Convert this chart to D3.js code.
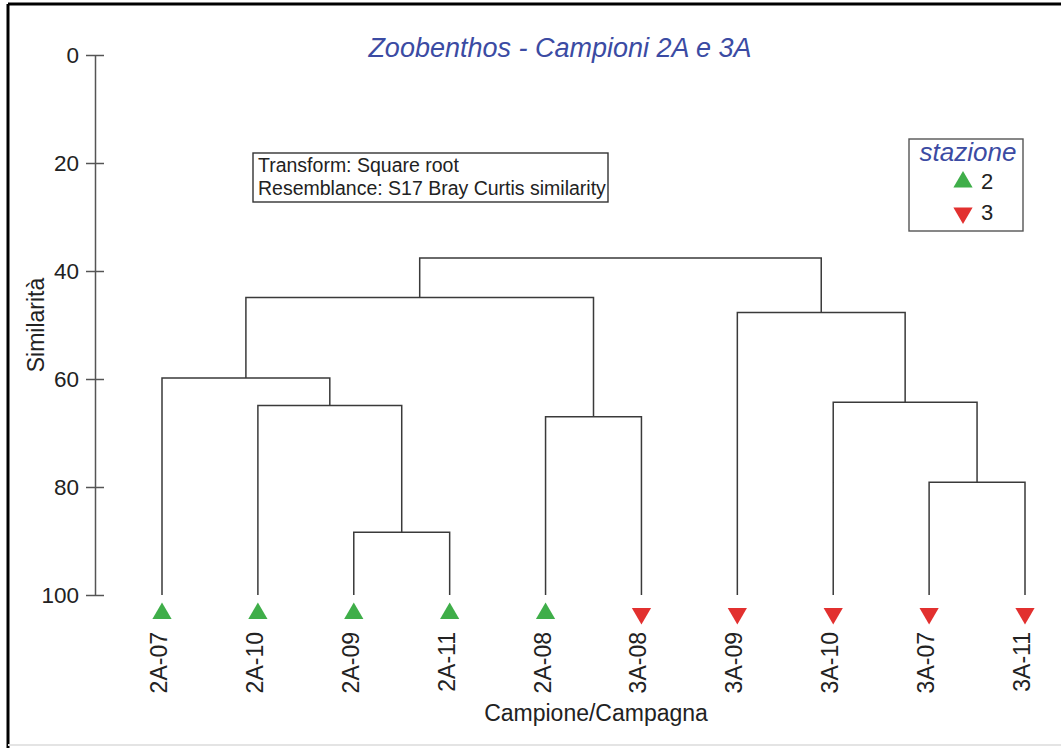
<!DOCTYPE html>
<html>
<head>
<meta charset="utf-8">
<script src="https://cdn.jsdelivr.net/npm/d3@7"></script>
<style>
  body { margin: 0; background: #fff; }
  svg { display: block; font-family: "Liberation Sans", Arial, Helvetica, sans-serif; }
</style>
</head>
<body>
<div id="chart"></div>
<script>
// leaves (left to right) and their station
const leaves = ["2A-07", "2A-10", "2A-09", "2A-11", "2A-08", "3A-08", "3A-09", "3A-10", "3A-07", "3A-11"];
const stations = [2, 2, 2, 2, 2, 3, 3, 3, 3, 3];

// merges: node ids 0-9 are leaves, merge i creates node 10+i
const mergeLeft  = [2, 1, 0, 4, 12, 8, 7, 6, 14];
const mergeRight = [3, 10, 11, 5, 13, 9, 15, 16, 17];
const mergeSim   = [88.4, 64.9, 59.8, 67.0, 44.9, 79.1, 64.3, 47.7, 37.6];

const yTicks = [0, 20, 40, 60, 80, 100];
const legendStations = [2, 3];

const W = 1061, H = 748;
const svg = d3.select("#chart").append("svg")
    .attr("width", W)
    .attr("height", H);

// frame
svg.append("line").attr("x1", 8).attr("x2", W).attr("y1", 4).attr("y2", 4)
  .attr("stroke", "#000").attr("stroke-width", 3);
svg.append("line").attr("x1", 8).attr("x2", 8).attr("y1", 4).attr("y2", H)
  .attr("stroke", "#000").attr("stroke-width", 3);
svg.append("line").attr("x1", 8).attr("x2", W).attr("y1", 745).attr("y2", 745)
  .attr("stroke", "#e4e4e4").attr("stroke-width", 2);

const x = d3.scalePoint().domain(leaves).range([162, 1025]);
const y = d3.scaleLinear().domain([0, 100]).range([55, 595]);

const color = d3.scaleOrdinal().domain([2, 3]).range(["#3fae49", "#e2302f"]);

// Y axis
const yAxis = svg.append("g")
  .attr("transform", "translate(95,0)")
  .call(d3.axisLeft(y).tickValues(yTicks).tickSize(9).tickSizeOuter(0).tickPadding(7));
yAxis.select(".domain").attr("stroke", "#555").attr("stroke-width", 1.5);
yAxis.selectAll(".tick line").attr("x1", -9).attr("x2", 9).attr("stroke", "#555").attr("stroke-width", 1.5);
yAxis.selectAll(".tick text")
  .attr("font-family", null)
  .attr("font-size", null)
  .style("font-size", "22.5px")
  .attr("fill", "#222");
yAxis.attr("font-size", null).attr("font-family", null);

svg.append("text")
  .attr("transform", "translate(44,325) rotate(-90)")
  .attr("text-anchor", "middle")
  .style("font-size", "23px")
  .attr("fill", "#222")
  .text("Similarità");

// node positions
const nodeX = leaves.map(d => x(d));
const nodeSim = leaves.map(() => 100);
mergeSim.forEach((s, i) => {
  nodeX.push((nodeX[mergeLeft[i]] + nodeX[mergeRight[i]]) / 2);
  nodeSim.push(s);
});

// dendrogram links
const links = svg.append("g")
  .attr("fill", "none")
  .attr("stroke", "#3a3a3a")
  .attr("stroke-width", 1.5);

mergeSim.forEach((s, i) => {
  const a = mergeLeft[i], b = mergeRight[i];
  links.append("path")
    .attr("d", `M${nodeX[a]},${y(nodeSim[a])}V${y(s)}H${nodeX[b]}V${y(nodeSim[b])}`);
});

// leaf symbols
const tri = d3.symbol(d3.symbolTriangle).size(160);
svg.append("g").selectAll("path")
  .data(leaves)
  .join("path")
    .attr("d", tri)
    .attr("fill", (d, i) => color(stations[i]))
    .attr("transform", (d, i) => `translate(${x(d)},${y(100) + 18.5}) rotate(${stations[i] === 2 ? 0 : 180})`);

// leaf labels
svg.append("g").selectAll("text")
  .data(leaves)
  .join("text")
    .attr("transform", d => `translate(${x(d) + 5},632) rotate(-90)`)
    .attr("text-anchor", "end")
    .style("font-size", "23px")
    .attr("fill", "#222")
    .text(d => d);

svg.append("text")
  .attr("x", 596).attr("y", 721)
  .attr("text-anchor", "middle")
  .style("font-size", "23px")
  .attr("fill", "#222")
  .text("Campione/Campagna");

// title
svg.append("text")
  .attr("x", 560).attr("y", 57)
  .attr("text-anchor", "middle")
  .style("font-size", "27px")
  .style("font-style", "italic")
  .attr("fill", "#3b4ba3")
  .text("Zoobenthos - Campioni 2A e 3A");

// info box
svg.append("rect")
  .attr("x", 253).attr("y", 153).attr("width", 355).attr("height", 49)
  .attr("fill", "#fff").attr("stroke", "#333").attr("stroke-width", 1.4);
svg.append("text").attr("x", 258).attr("y", 172)
  .style("font-size", "19.5px").attr("fill", "#222")
  .text("Transform: Square root");
svg.append("text").attr("x", 258).attr("y", 195)
  .style("font-size", "19.5px").attr("fill", "#222")
  .text("Resemblance: S17 Bray Curtis similarity");

// legend
const lg = svg.append("g");
lg.append("rect")
  .attr("x", 909).attr("y", 139).attr("width", 114).attr("height", 92)
  .attr("fill", "#fff").attr("stroke", "#555").attr("stroke-width", 1.4);
lg.append("text")
  .attr("x", 968).attr("y", 161)
  .attr("text-anchor", "middle")
  .style("font-size", "26px")
  .style("font-style", "italic")
  .attr("fill", "#3b4ba3")
  .text("stazione");
const legY = d3.scalePoint().domain(legendStations).range([182, 213]);
lg.selectAll("path.sym")
  .data(legendStations)
  .join("path")
    .attr("class", "sym")
    .attr("d", tri)
    .attr("fill", d => color(d))
    .attr("transform", d => `translate(963,${legY(d)}) rotate(${d === 2 ? 0 : 180})`);
lg.selectAll("text.lab")
  .data(legendStations)
  .join("text")
    .attr("class", "lab")
    .attr("x", 981)
    .attr("y", d => legY(d) + 7)
    .style("font-size", "22px")
    .attr("fill", "#222")
    .text(d => d);
</script>
</body>
</html>
